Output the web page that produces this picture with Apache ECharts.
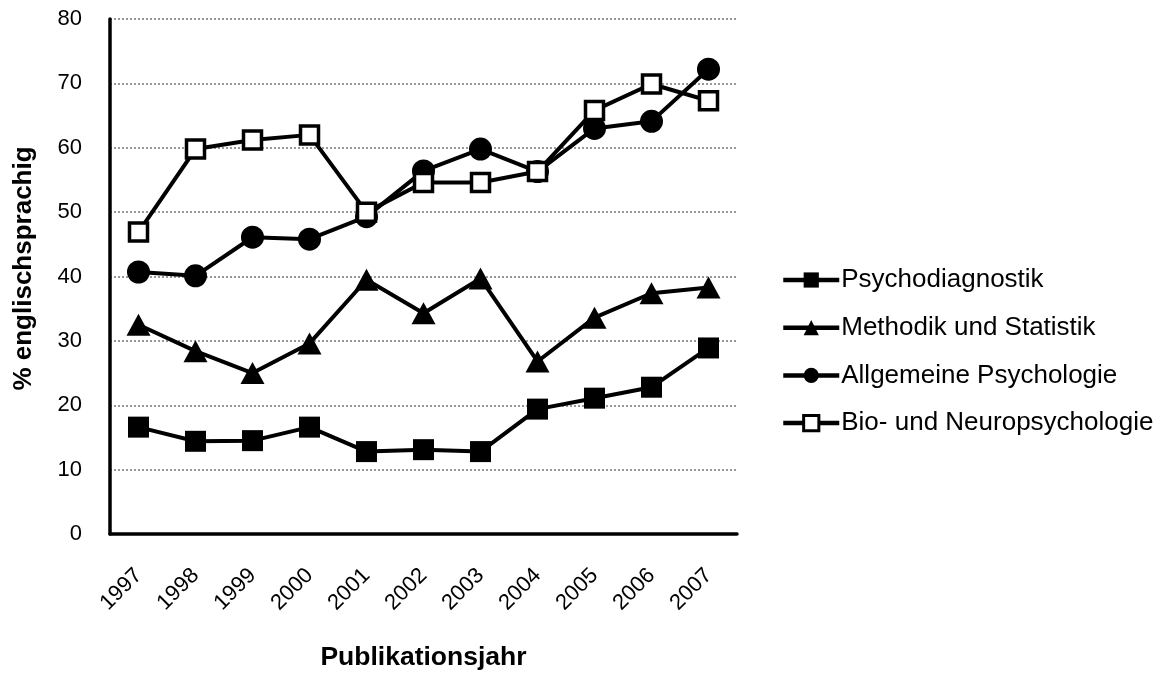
<!DOCTYPE html>
<html><head><meta charset="utf-8">
<script src="https://cdn.jsdelivr.net/npm/echarts@6/dist/echarts.min.js"></script>
<style>html,body{margin:0;padding:0;background:#fff}#c{width:1163px;height:677px}</style>
</head><body><div id="c"></div>
<script>
const years = ['1997','1998','1999','2000','2001','2002','2003','2004','2005','2006','2007'];
const psychodiagnostik = [16.6,14.4,14.5,16.6,12.8,13.1,12.8,19.4,21.1,22.8,28.9];
const methodik = [32.5,28.4,25.0,29.6,39.5,34.3,39.7,26.8,33.6,37.4,38.3];
const allgemeine = [40.7,40.1,46.1,45.8,49.3,56.4,59.8,56.3,63.0,64.1,72.2];
const bioNeuro = [46.9,59.8,61.2,62.0,50.0,54.6,54.6,56.3,65.8,69.9,67.3];
const yTicks = [0,10,20,30,40,50,60,70,80];

const font = 'Liberation Sans, Arial, sans-serif';
const chart = echarts.init(document.getElementById('c'), null, {renderer:'canvas'});
const base = {type:'line', lineStyle:{color:'#000', width:4}, itemStyle:{color:'#000', borderColor:'#000', borderWidth:0}, z:2, animation:false, emphasis:{disabled:true}};
chart.setOption({
  animation:false,
  backgroundColor:'#fff',
  grid:{left:110, right:426, top:19, bottom:143, containLabel:false},
  legend:{
    orient:'vertical', left:776, top:262, itemWidth:56, itemHeight:19, itemGap:21.7,
    lineStyle:{width:4.5},
    textStyle:{fontFamily:font, fontSize:26, color:'#000', padding:[0,0,0,-3]},
    data:['Psychodiagnostik','Methodik und Statistik','Allgemeine Psychologie',
      {name:'Bio- und Neuropsychologie', itemStyle:{color:'#fff', borderColor:'#000', borderWidth:3}}]
  },
  xAxis:{
    type:'category', data:years, boundaryGap:true,
    axisLine:{lineStyle:{color:'#000', width:3.5}},
    axisTick:{show:false},
    axisLabel:{rotate:45, fontFamily:font, fontSize:22, color:'#000', margin:38},
    name:'Publikationsjahr', nameLocation:'middle', nameGap:110,
    nameTextStyle:{fontFamily:font, fontSize:26.5, fontWeight:'bold', color:'#000'}
  },
  yAxis:{
    type:'value', min:0, max:80, interval:10,
    axisLine:{show:true, lineStyle:{color:'#000', width:3.5}},
    axisTick:{show:false},
    axisLabel:{fontFamily:font, fontSize:22, color:'#000', margin:28, formatter:v=>yTicks.includes(v)?String(v):''},
    splitLine:{show:true, lineStyle:{color:'#777', width:1.5, type:[2,2]}},
    name:'% englischsprachig', nameLocation:'middle', nameGap:73, nameRotate:90,
    nameTextStyle:{fontFamily:font, fontSize:26, fontWeight:'bold', color:'#000', padding:[0,0,0,16]}
  },
  series:[
    Object.assign({}, base, {name:'Psychodiagnostik', data:psychodiagnostik, symbol:'rect', symbolSize:21}),
    Object.assign({}, base, {name:'Methodik und Statistik', data:methodik, symbol:'triangle', symbolSize:[24,22]}),
    Object.assign({}, base, {name:'Allgemeine Psychologie', data:allgemeine, symbol:'circle', symbolSize:23}),
    Object.assign({}, base, {name:'Bio- und Neuropsychologie', data:bioNeuro, symbol:'rect', symbolSize:18,
      itemStyle:{color:'#fff', borderColor:'#000', borderWidth:3.5}})
  ]
});
</script></body></html>
